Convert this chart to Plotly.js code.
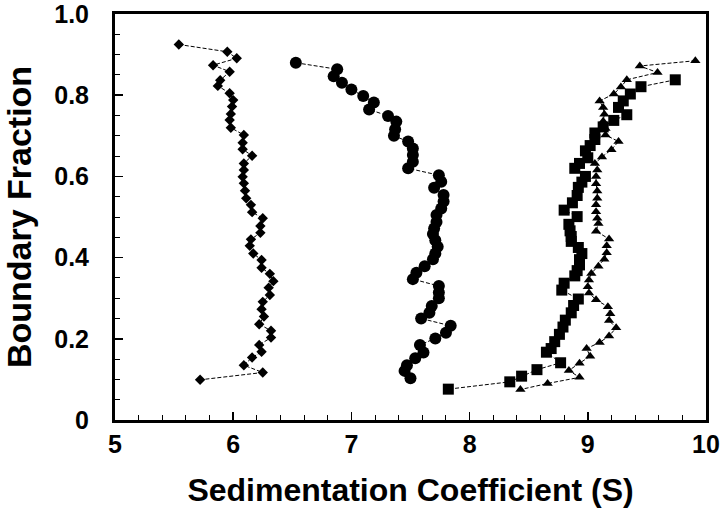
<!DOCTYPE html>
<html>
<head>
<meta charset="utf-8">
<script src="https://cdn.plot.ly/plotly-3.0.1.min.js"></script>
<style>html,body{margin:0;padding:0;background:#fff;}#chart{width:720px;height:513px;}</style>
</head>
<body>
<div id="chart"></div>
<script>
// Series 1: diamonds
const diamondS = [5.54, 5.95, 6.03, 5.83, 5.97, 5.89, 5.87, 5.97, 6.00, 5.99, 5.98, 5.97, 5.98, 6.09, 6.08, 6.08, 6.16, 6.09, 6.09, 6.08, 6.09, 6.10, 6.11, 6.15, 6.16, 6.25, 6.23, 6.23, 6.15, 6.14, 6.17, 6.24, 6.24, 6.31, 6.34, 6.30, 6.31, 6.25, 6.24, 6.26, 6.22, 6.32, 6.32, 6.22, 6.24, 6.16, 6.09, 6.25, 5.72];
const diamondF = [0.925, 0.907, 0.891, 0.874, 0.858, 0.837, 0.823, 0.805, 0.788, 0.772, 0.754, 0.739, 0.720, 0.702, 0.683, 0.667, 0.651, 0.632, 0.616, 0.599, 0.583, 0.565, 0.546, 0.530, 0.512, 0.497, 0.478, 0.461, 0.445, 0.429, 0.410, 0.394, 0.375, 0.360, 0.342, 0.326, 0.308, 0.291, 0.273, 0.255, 0.236, 0.220, 0.203, 0.185, 0.168, 0.154, 0.135, 0.117, 0.099];

// Series 2: circles
const circleS = [6.53, 6.88, 6.85, 6.92, 7.00, 7.10, 7.19, 7.15, 7.31, 7.38, 7.37, 7.36, 7.48, 7.52, 7.52, 7.52, 7.48, 7.74, 7.76, 7.70, 7.78, 7.78, 7.76, 7.72, 7.72, 7.70, 7.69, 7.71, 7.73, 7.71, 7.69, 7.62, 7.55, 7.52, 7.74, 7.74, 7.74, 7.68, 7.66, 7.59, 7.84, 7.80, 7.71, 7.58, 7.61, 7.54, 7.47, 7.45, 7.50];
const circleF = [0.880, 0.864, 0.847, 0.831, 0.814, 0.798, 0.782, 0.765, 0.749, 0.735, 0.716, 0.700, 0.686, 0.669, 0.653, 0.636, 0.620, 0.603, 0.587, 0.572, 0.554, 0.538, 0.521, 0.505, 0.488, 0.472, 0.458, 0.443, 0.427, 0.410, 0.396, 0.379, 0.363, 0.347, 0.330, 0.314, 0.300, 0.281, 0.264, 0.250, 0.232, 0.215, 0.201, 0.185, 0.166, 0.152, 0.135, 0.121, 0.103];

// Series 3: squares
const squareS = [9.74, 9.45, 9.36, 9.30, 9.26, 9.33, 9.22, 9.13, 9.06, 9.06, 9.02, 8.98, 9.00, 8.93, 8.89, 8.98, 8.95, 8.92, 8.91, 8.87, 8.80, 8.91, 8.84, 8.85, 8.86, 8.86, 8.92, 8.95, 8.93, 8.93, 8.91, 8.89, 8.80, 8.78, 8.92, 8.88, 8.86, 8.81, 8.79, 8.76, 8.72, 8.69, 8.65, 8.77, 8.57, 8.44, 8.34, 7.82];
const squareF = [0.838, 0.821, 0.803, 0.786, 0.770, 0.752, 0.738, 0.722, 0.707, 0.691, 0.676, 0.663, 0.646, 0.632, 0.620, 0.600, 0.586, 0.573, 0.553, 0.535, 0.517, 0.501, 0.482, 0.466, 0.452, 0.440, 0.425, 0.410, 0.395, 0.382, 0.368, 0.355, 0.337, 0.320, 0.298, 0.282, 0.264, 0.246, 0.229, 0.211, 0.193, 0.176, 0.167, 0.141, 0.124, 0.108, 0.094, 0.076];

// Series 4: triangles
const triS = [9.91, 9.44, 9.59, 9.33, 9.28, 9.22, 9.10, 9.13, 9.14, 9.13, 9.15, 9.15, 9.26, 9.20, 9.12, 9.06, 9.08, 9.07, 9.07, 9.08, 9.08, 9.07, 9.07, 9.08, 9.09, 9.07, 9.18, 9.16, 9.16, 9.14, 9.09, 9.03, 9.01, 9.00, 9.01, 9.07, 9.17, 9.19, 9.18, 9.24, 9.18, 9.10, 8.99, 9.02, 8.93, 8.84, 8.93, 8.66, 8.43];
const triF = [0.885, 0.872, 0.856, 0.838, 0.820, 0.803, 0.786, 0.770, 0.753, 0.736, 0.718, 0.702, 0.686, 0.666, 0.648, 0.632, 0.616, 0.600, 0.582, 0.564, 0.546, 0.530, 0.513, 0.497, 0.484, 0.465, 0.446, 0.429, 0.412, 0.396, 0.379, 0.361, 0.345, 0.328, 0.313, 0.296, 0.279, 0.262, 0.245, 0.227, 0.207, 0.191, 0.176, 0.157, 0.140, 0.122, 0.105, 0.090, 0.075];

const xTicks = [5, 6, 7, 8, 9, 10];
const xTickText = ['5', '6', '7', '8', '9', '10'];
const yTicks = [0, 0.2, 0.4, 0.6, 0.8, 1.0];
const yTickText = ['0', '0.2', '0.4', '0.6', '0.8', '1.0'];

const FONT = '"Liberation Sans", Arial, Helvetica, sans-serif';
const lineStyle = {color: '#000', width: 1, dash: '4px,2px'};

function trace(x, y, symbol, size) {
  return {
    x: x, y: y, type: 'scatter', mode: 'lines+markers',
    line: lineStyle,
    marker: {symbol: symbol, size: size, color: '#000', line: {width: 0}},
    cliponaxis: false,
    showlegend: false
  };
}

const data = [
  trace(diamondS, diamondF, 'diamond', 8),
  trace(circleS, circleF, 'circle', 12),
  trace(squareS, squareF, 'square', 11),
  trace(triS, triF, 'triangle-up', 9)
];

const layout = {
  width: 720, height: 513,
  margin: {l: 115, r: 14, t: 14, b: 93},
  paper_bgcolor: '#fff', plot_bgcolor: '#fff',
  font: {family: FONT, color: '#000'},
  xaxis: {
    range: [5, 10.0001], tickvals: xTicks, ticktext: xTickText,
    ticks: 'inside', ticklen: 8, tickwidth: 1.5, tickcolor: '#000',
    minor: {dtick: 0.2, tick0: 5, ticks: 'inside', ticklen: 5, tickwidth: 1, tickcolor: '#000'},
    showgrid: false, zeroline: false,
    showline: true, linewidth: 3, linecolor: '#000', mirror: true,
    tickfont: {family: FONT, size: 25, color: '#000', weight: 'bold'},
    ticklabelstandoff: 0,
    title: {text: '<b>Sedimentation Coefficient (S)</b>', font: {family: FONT, size: 32, color: '#000'}, standoff: 22}
  },
  yaxis: {
    range: [0, 1.0001], tickvals: yTicks, ticktext: yTickText,
    ticks: 'inside', ticklen: 8, tickwidth: 1.5, tickcolor: '#000',
    minor: {dtick: 0.05, tick0: 0, ticks: 'inside', ticklen: 5, tickwidth: 1, tickcolor: '#000'},
    showgrid: false, zeroline: false,
    showline: true, linewidth: 3, linecolor: '#000', mirror: true,
    tickfont: {family: FONT, size: 25, color: '#000', weight: 'bold'},
    ticklabelstandoff: 18,
    ticklabeloverflow: 'allow',
    title: {text: '<b>Boundary Fraction</b>', font: {family: FONT, size: 34, color: '#000'}, standoff: 14}
  }
};

Plotly.newPlot('chart', data, layout, {displayModeBar: false, staticPlot: true});
</script>
</body>
</html>
